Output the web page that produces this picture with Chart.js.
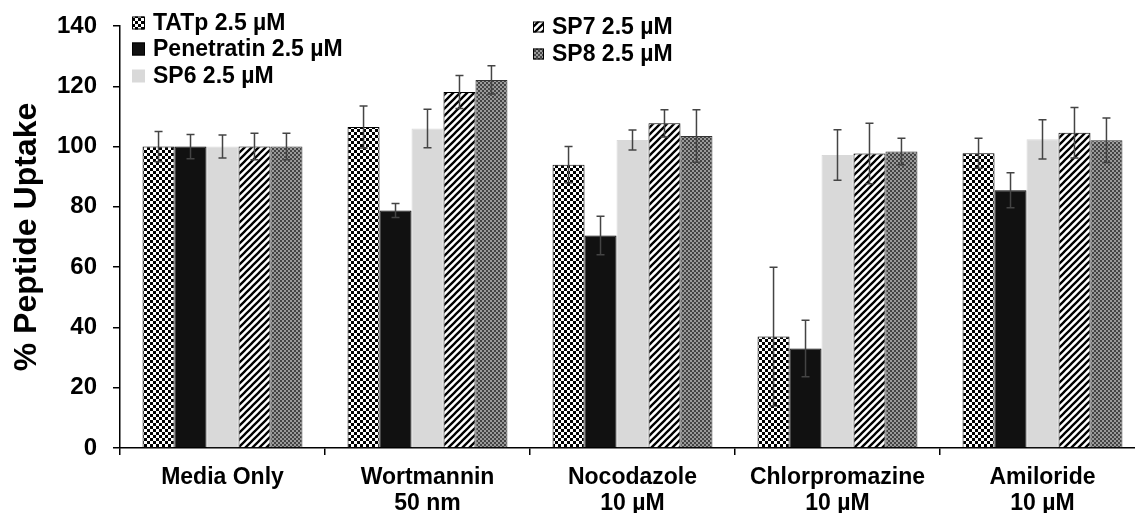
<!DOCTYPE html>
<html>
<head>
<meta charset="utf-8">
<script src="https://cdn.jsdelivr.net/npm/chart.js@4"></script>
<style>
  html, body { margin: 0; padding: 0; background: #fff; overflow: hidden; }
  #wrap { width: 1135px; height: 513px; overflow: hidden; }
</style>
</head>
<body>
<div id="wrap"><canvas id="uptake-chart" width="1145" height="513"></canvas></div>
<script>
// treatments on the x axis
var treatments = [
    ["Media Only"],
    ["Wortmannin", "50 nm"],
    ["Nocodazole", "10 µM"],
    ["Chlorpromazine", "10 µM"],
    ["Amiloride", "10 µM"]
];

var seriesNames = ["TATp 2.5 µM", "Penetratin 2.5 µM", "SP6 2.5 µM", "SP7 2.5 µM", "SP8 2.5 µM"];

// % peptide uptake
var tatpValues = [100, 106.5, 94, 37, 97.8];
var penetratinValues = [100, 78.8, 70.5, 33, 85.5];
var sp6Values = [100, 106, 102.2, 97.2, 102.4];
var sp7Values = [100, 118.1, 107.7, 97.7, 104.6];
var sp8Values = [100, 122.1, 103.5, 98.4, 102.1];

// error bar half-heights
var tatpErrors = [5, 7, 6, 23, 5];
var penetratinErrors = [4, 2.3, 6.4, 9.4, 5.8];
var sp6Errors = [3.8, 6.4, 3.3, 8.4, 6.5];
var sp7Errors = [4.4, 5.5, 4.5, 10, 8.4];
var sp8Errors = [4.4, 4.7, 8.7, 4.4, 7.4];

var yTicks = [0, 20, 40, 60, 80, 100, 120, 140];

var FONT = "'Liberation Sans', Arial, sans-serif";

function makeTile(size, draw) {
    var c = document.createElement('canvas');
    c.width = size;
    c.height = size;
    var g = c.getContext('2d');
    draw(g, size);
    return g.createPattern(c, 'repeat');
}

var checkerFill = makeTile(6, function (g) {
    g.fillStyle = '#fff';
    g.fillRect(0, 0, 6, 6);
    g.fillStyle = '#000';
    g.fillRect(0, 0, 3, 3);
    g.fillRect(3, 3, 3, 3);
});

var stripeFill = makeTile(7, function (g, s) {
    g.fillStyle = '#fff';
    g.fillRect(0, 0, s, s);
    g.strokeStyle = '#000';
    g.lineWidth = 2.3;
    g.beginPath();
    g.moveTo(-1, s + 1); g.lineTo(s + 1, -1);
    g.moveTo(-2, 2); g.lineTo(2, -2);
    g.moveTo(s - 2, s + 2); g.lineTo(s + 2, s - 2);
    g.stroke();
});

var fineFill = makeTile(4, function (g) {
    g.fillStyle = '#9a9a9a';
    g.fillRect(0, 0, 4, 4);
    g.fillStyle = '#444';
    g.fillRect(0, 0, 2, 2);
    g.fillRect(2, 2, 2, 2);
});

var fills = [checkerFill, '#111111', '#d9d9d9', stripeFill, fineFill];
var borders = ['#000', '#000', '#d9d9d9', '#000', '#333'];
var allValues = [tatpValues, penetratinValues, sp6Values, sp7Values, sp8Values];
var allErrors = [tatpErrors, penetratinErrors, sp6Errors, sp7Errors, sp8Errors];

var datasets = seriesNames.map(function (name, i) {
    return {
        label: name,
        data: allValues[i],
        errors: allErrors[i],
        backgroundColor: fills[i],
        borderColor: borders[i],
        borderWidth: 1,
        categoryPercentage: 0.78,
        barPercentage: 1.0
    };
});

var errorBars = {
    id: 'errorBars',
    afterDatasetsDraw: function (chart) {
        var ctx = chart.ctx;
        var y = chart.scales.y;
        ctx.save();
        ctx.strokeStyle = '#444';
        ctx.lineWidth = 1.5;
        chart.data.datasets.forEach(function (ds, i) {
            var meta = chart.getDatasetMeta(i);
            meta.data.forEach(function (bar, j) {
                var v = ds.data[j], e = ds.errors[j];
                var top = y.getPixelForValue(v + e);
                var bottom = y.getPixelForValue(v - e);
                ctx.beginPath();
                ctx.moveTo(bar.x, top); ctx.lineTo(bar.x, bottom);
                ctx.moveTo(bar.x - 4, top); ctx.lineTo(bar.x + 4, top);
                ctx.moveTo(bar.x - 4, bottom); ctx.lineTo(bar.x + 4, bottom);
                ctx.stroke();
            });
        });
        ctx.restore();
    }
};

// legend laid out in two columns like the figure
var legendSpots = [
    { x: 132, y: 23, box: 13 },
    { x: 132, y: 49, box: 13 },
    { x: 132, y: 76, box: 13 },
    { x: 533, y: 27, box: 11 },
    { x: 533, y: 54, box: 11 }
];

var figureLegend = {
    id: 'figureLegend',
    afterDraw: function (chart) {
        var ctx = chart.ctx;
        ctx.save();
        ctx.font = 'bold 23px ' + FONT;
        ctx.textBaseline = 'middle';
        chart.data.datasets.forEach(function (ds, i) {
            var p = legendSpots[i];
            ctx.fillStyle = ds.backgroundColor;
            ctx.fillRect(p.x, p.y - p.box / 2, p.box, p.box);
            if (i !== 2) {
                ctx.strokeStyle = '#000';
                ctx.lineWidth = 1;
                ctx.strokeRect(p.x + 0.5, p.y - p.box / 2 + 0.5, p.box - 1, p.box - 1);
            }
            ctx.fillStyle = '#000';
            ctx.fillText(ds.label, p.x + p.box + 8, p.y + 1);
        });
        ctx.restore();
    }
};

var chart = new Chart(document.getElementById('uptake-chart'), {
    type: 'bar',
    data: {
        labels: treatments,
        datasets: datasets
    },
    options: {
        responsive: false,
        animation: false,
        devicePixelRatio: 1,
        layout: { padding: { top: 26, left: 0, right: 0, bottom: 0 } },
        plugins: {
            legend: { display: false },
            tooltip: { enabled: false }
        },
        scales: {
            x: {
                grid: {
                    offset: true,
                    drawOnChartArea: false,
                    drawTicks: true,
                    tickLength: 7,
                    color: '#000',
                    lineWidth: 1.5
                },
                border: { color: '#000', width: 1.5 },
                ticks: {
                    color: '#000',
                    font: { family: FONT, size: 23, weight: 'bold', lineHeight: 1.15 },
                    padding: 9,
                    maxRotation: 0,
                    autoSkip: false
                },
                afterFit: function (s) { s.height = 65; }
            },
            y: {
                min: 0,
                max: 140,
                afterBuildTicks: function (s) {
                    s.ticks = yTicks.map(function (v) { return { value: v }; });
                },
                grid: {
                    drawOnChartArea: false,
                    drawTicks: true,
                    tickLength: 7,
                    color: '#000',
                    lineWidth: 1.5
                },
                border: { color: '#000', width: 1.5 },
                ticks: {
                    color: '#000',
                    font: { family: FONT, size: 24, weight: 'bold' },
                    padding: 16
                },
                title: {
                    display: true,
                    text: '% Peptide Uptake',
                    color: '#000',
                    font: { family: FONT, size: 32, weight: 'bold' },
                    padding: { top: 8, bottom: 0 }
                },
                afterFit: function (s) {
                    s.width = 120;
                    s.paddingTop = 0;
                    s.paddingBottom = 0;
                }
            }
        }
    },
    plugins: [errorBars, figureLegend]
});
</script>
</body>
</html>
